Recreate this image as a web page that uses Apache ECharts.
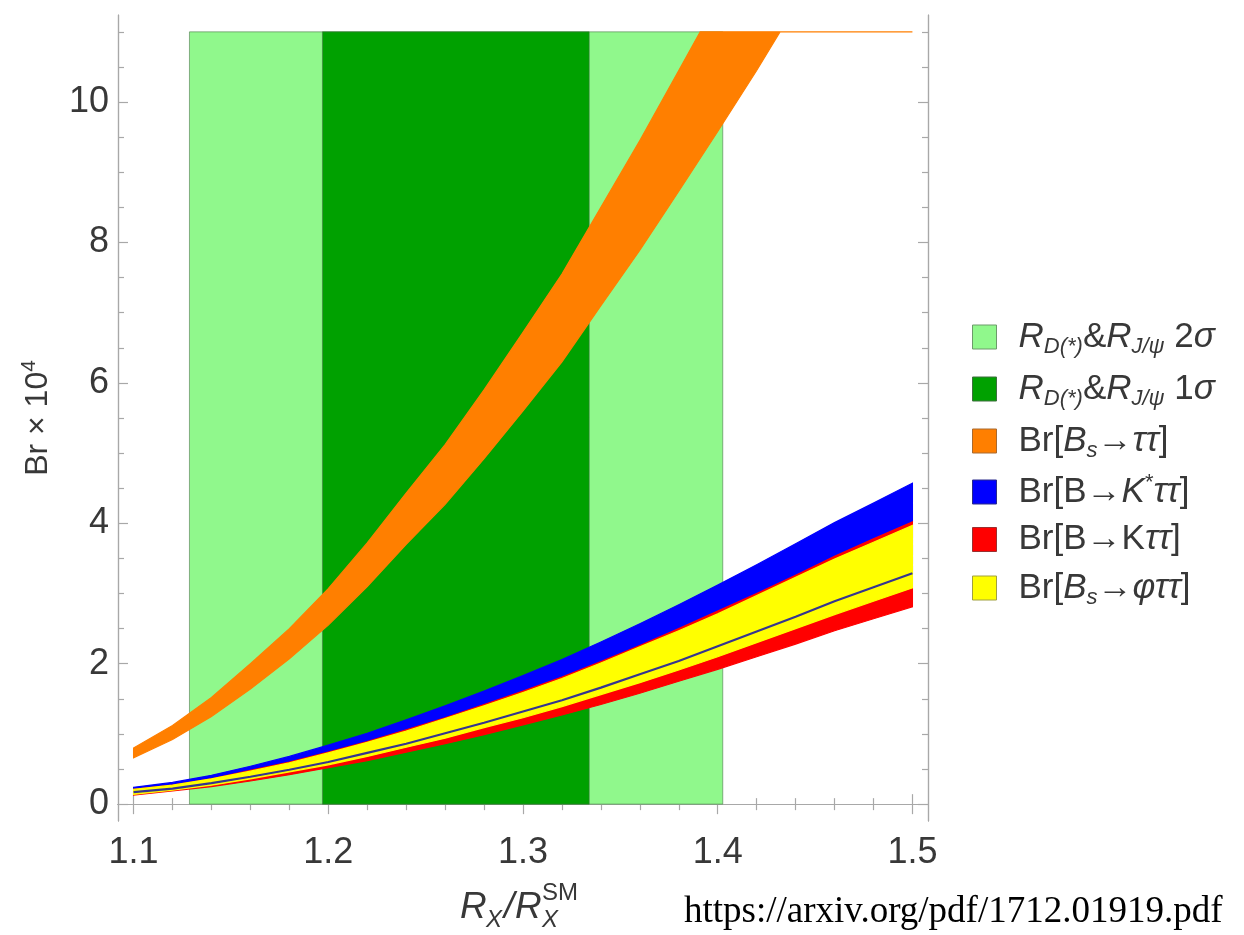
<!DOCTYPE html>
<html>
<head>
<meta charset="utf-8">
<script src="https://cdn.jsdelivr.net/npm/echarts@6/dist/echarts.min.js"></script>
<style>
  html, body { margin: 0; padding: 0; background: #ffffff; }
  #chart { width: 1244px; height: 935px; }
</style>
</head>
<body>
<div id="chart"></div>
<script>
// ---- data -------------------------------------------------------------
// R_X / R_X^SM sample points for the B -> K(*) tau tau and Bs -> phi tau tau bands
const xs = [1.10, 1.12, 1.14, 1.16, 1.18, 1.20, 1.22, 1.24, 1.26, 1.28, 1.30,
            1.32, 1.34, 1.36, 1.38, 1.40, 1.42, 1.44, 1.46, 1.48, 1.50];

// Br[B -> K* tau tau] x 10^4
const kstarUpper = [0.24, 0.31, 0.41, 0.54, 0.68, 0.84, 1.01, 1.20, 1.40, 1.61, 1.83,
                    2.06, 2.31, 2.57, 2.84, 3.12, 3.41, 3.71, 4.01, 4.29, 4.57];
const kstarLower = [0.17, 0.22, 0.30, 0.39, 0.49, 0.60, 0.73, 0.86, 1.01, 1.16, 1.32,
                    1.48, 1.66, 1.85, 2.04, 2.25, 2.46, 2.67, 2.89, 3.09, 3.29];

// Br[B -> K tau tau] x 10^4
const kUpper = [0.21, 0.27, 0.36, 0.48, 0.60, 0.74, 0.89, 1.06, 1.23, 1.42, 1.61,
                1.81, 2.03, 2.26, 2.50, 2.75, 3.00, 3.26, 3.53, 3.78, 4.02];
const kLower = [0.13, 0.19, 0.25, 0.33, 0.42, 0.52, 0.62, 0.74, 0.86, 0.99, 1.13,
                1.27, 1.42, 1.58, 1.75, 1.92, 2.10, 2.28, 2.47, 2.64, 2.81];

// Br[Bs -> phi tau tau] x 10^4
const phiUpper = [0.21, 0.27, 0.36, 0.47, 0.59, 0.73, 0.88, 1.04, 1.22, 1.40, 1.59,
                  1.79, 2.01, 2.24, 2.47, 2.71, 2.97, 3.23, 3.49, 3.73, 3.97];
const phiLower = [0.14, 0.20, 0.27, 0.36, 0.46, 0.56, 0.68, 0.81, 0.94, 1.09, 1.23,
                  1.39, 1.56, 1.73, 1.91, 2.10, 2.30, 2.50, 2.70, 2.89, 3.08];

// Br[Bs -> tau tau] x 10^4, [x, y] pairs; the band is cut off at the top of the plot range (11)
const bsUpper = [[1.10, 0.80], [1.12, 1.12], [1.14, 1.52], [1.16, 2.00], [1.18, 2.50],
                 [1.20, 3.07], [1.22, 3.72], [1.24, 4.43], [1.26, 5.12], [1.28, 5.90],
                 [1.30, 6.72], [1.32, 7.55], [1.34, 8.50], [1.36, 9.45], [1.38, 10.45],
                 [1.391, 11.0], [1.50, 11.0]];
const bsLower = [[1.10, 0.66], [1.12, 0.92], [1.14, 1.25], [1.16, 1.64], [1.18, 2.07],
                 [1.20, 2.55], [1.22, 3.10], [1.24, 3.70], [1.26, 4.27], [1.28, 4.92],
                 [1.30, 5.60], [1.32, 6.30], [1.34, 7.10], [1.36, 7.89], [1.38, 8.73],
                 [1.40, 9.58], [1.42, 10.45], [1.432, 11.0], [1.50, 11.0]];

// allowed R_X / R_X^SM ranges from R_D(*) and R_J/psi
const range2Sigma = [1.1287, 1.4026];
const range1Sigma = [1.197, 1.334];
const rangeHeight = [0, 11];

// frame ticks
const xMajor = [1.1, 1.2, 1.3, 1.4, 1.5];
const xMinor = [1.12, 1.14, 1.16, 1.18, 1.22, 1.24, 1.26, 1.28,
                1.32, 1.34, 1.36, 1.38, 1.42, 1.44, 1.46, 1.48];
const yMajor = [0, 2, 4, 6, 8, 10];
const yMinor = [0.5, 1, 1.5, 2.5, 3, 3.5, 4.5, 5, 5.5, 6.5, 7, 7.5,
                8.5, 9, 9.5, 10.5, 11];

// ---- styling ----------------------------------------------------------
const SANS = '"Liberation Sans", Arial, sans-serif';
const TEXT = '#383838';
const FRAME = '#a8a8a8';
const C = {
  light: '#90f88c', dark: '#00a100', orange: '#ff7f00',
  blue: '#0000ff', red: '#ff0000', yellow: '#ffff00', edge: '#35358f'
};

const pairs = (vals) => xs.map((x, i) => [x, vals[i]]);

function rectItem(range, fill) {
  return function (params, api) {
    const p0 = api.coord([range[0], rangeHeight[1]]);
    const p1 = api.coord([range[1], rangeHeight[0]]);
    return {
      type: 'rect',
      shape: { x: p0[0], y: p0[1], width: p1[0] - p0[0], height: p1[1] - p0[1] },
      style: { fill: fill, stroke: 'rgba(70,110,70,0.55)', lineWidth: 1 }
    };
  };
}

function bandItem(upper, lower, fill) {
  return function (params, api) {
    const pts = upper.map(p => api.coord(p))
      .concat(lower.slice().reverse().map(p => api.coord(p)));
    return {
      type: 'polygon',
      shape: { points: pts, smooth: 0 },
      style: { fill: fill, stroke: fill, lineWidth: 1.2 }
    };
  };
}

function xAxisFrame(position, ticks, length, labels) {
  return {
    type: 'value', position: position, min: 1.092, max: 1.508,
    axisLine: { show: true, lineStyle: { color: FRAME, width: 1.2 } },
    splitLine: { show: false },
    axisTick: { show: true, inside: true, length: length, customValues: ticks,
                lineStyle: { color: FRAME, width: 1.2 } },
    axisLabel: labels ? {
      show: true, customValues: ticks, margin: 14,
      fontFamily: SANS, fontSize: 36, color: TEXT
    } : { show: false }
  };
}

function yAxisFrame(position, ticks, length, labels) {
  return {
    type: 'value', position: position, min: -0.24, max: 11.24,
    axisLine: { show: true, lineStyle: { color: FRAME, width: 1.2 } },
    splitLine: { show: false },
    axisTick: { show: true, inside: true, length: length, customValues: ticks,
                lineStyle: { color: FRAME, width: 1.2 } },
    axisLabel: labels ? {
      show: true, customValues: ticks, margin: 9,
      fontFamily: SANS, fontSize: 36, color: TEXT
    } : { show: false }
  };
}

const yMain = yAxisFrame('left', yMajor, 10, true);
yMain.name = '{a|Br × 10}{b|4}';
yMain.nameLocation = 'middle';
yMain.nameGap = 60;
yMain.nameTextStyle = {
  color: TEXT, fontFamily: SANS,
  rich: {
    a: { fontSize: 32, fontFamily: SANS, color: TEXT },
    b: { fontSize: 21, fontFamily: SANS, color: TEXT, padding: [0, 0, 18, 0] }
  }
};

const legendText = {
  s2: '{i|R}{sb|D(*)}{n|&}{i|R}{sb|J/ψ}{n| 2}{i|σ}',
  s1: '{i|R}{sb|D(*)}{n|&}{i|R}{sb|J/ψ}{n| 1}{i|σ}',
  bs: '{n|Br[}{i|B}{sb|s}{n|→}{i|ττ}{n|]}',
  ks: '{n|Br[B→}{i|K}{sp|*}{i|ττ}{n|]}',
  k:  '{n|Br[B→K}{i|ττ}{n|]}',
  ph: '{n|Br[}{i|B}{sb|s}{n|→}{i|φττ}{n|]}'
};

const legendItem = (name, color, border) => ({
  name: name, icon: 'rect',
  itemStyle: { color: color, borderColor: border, borderWidth: 1 }
});

const option = {
  animation: false,
  backgroundColor: '#ffffff',
  grid: { left: 118, top: 15, right: 316, bottom: 114, containLabel: false },
  xAxis: [
    xAxisFrame('bottom', xMajor, 10, true),
    xAxisFrame('bottom', xMinor, 6, false),
    xAxisFrame('top', xMajor, 10, false),
    xAxisFrame('top', xMinor, 6, false)
  ],
  yAxis: [
    yMain,
    yAxisFrame('left', yMinor, 6, false),
    yAxisFrame('right', yMajor, 10, false),
    yAxisFrame('right', yMinor, 6, false)
  ],
  legend: {
    orient: 'vertical', left: 972, top: 316, padding: 0,
    itemWidth: 24, itemHeight: 24, itemGap: 10,
    selectedMode: false,
    data: [
      legendItem('s2', C.light, '#6c9a6a'),
      legendItem('s1', C.dark, '#3f6f3f'),
      legendItem('bs', C.orange, '#a86a30'),
      legendItem('ks', C.blue, '#2a2a8a'),
      legendItem('k', C.red, '#9a3030'),
      legendItem('ph', C.yellow, '#a0a040')
    ],
    formatter: name => legendText[name],
    textStyle: {
      color: TEXT, fontFamily: SANS, fontSize: 34, padding: [0, 0, 0, 17],
      rich: {
        n:  { fontSize: 35, lineHeight: 44, fontFamily: SANS, color: TEXT },
        i:  { fontSize: 35, lineHeight: 44, fontFamily: SANS, color: TEXT, fontStyle: 'italic' },
        sb: { fontSize: 22, lineHeight: 22, fontFamily: SANS, color: TEXT, fontStyle: 'italic', padding: [20, 0, 0, 0] },
        sp: { fontSize: 22, lineHeight: 22, fontFamily: SANS, color: TEXT, padding: [0, 0, 18, 0] }
      }
    }
  },
  graphic: [
    {
      type: 'group', left: 460, top: 881,
      children: [
        { type: 'text', x: 0, y: 8, style: { text: 'R', font: 'italic 37px ' + SANS, fill: TEXT } },
        { type: 'text', x: 26, y: 27, style: { text: 'X', font: 'italic 24px ' + SANS, fill: TEXT } },
        { type: 'text', x: 44, y: 8, style: { text: '/', font: 'italic 37px ' + SANS, fill: TEXT } },
        { type: 'text', x: 55, y: 8, style: { text: 'R', font: 'italic 37px ' + SANS, fill: TEXT } },
        { type: 'text', x: 82, y: 0, style: { text: 'SM', font: '24px ' + SANS, fill: TEXT } },
        { type: 'text', x: 82, y: 27, style: { text: 'X', font: 'italic 24px ' + SANS, fill: TEXT } }
      ]
    },
    {
      type: 'text', left: 684, top: 894,
      style: { text: 'https://arxiv.org/pdf/1712.01919.pdf',
               font: '37px "Liberation Serif", "Times New Roman", serif', fill: '#000000' }
    }
  ],
  series: [
    { name: 's2', type: 'custom', z: 1, data: [[xs[0], 0]], renderItem: rectItem(range2Sigma, C.light), silent: true },
    { name: 's1', type: 'custom', z: 2, data: [[xs[0], 0]], renderItem: rectItem(range1Sigma, C.dark), silent: true },
    { name: 'bs', type: 'custom', z: 3, data: [[xs[0], 0]], renderItem: bandItem(bsUpper, bsLower, C.orange), silent: true },
    { name: 'ks', type: 'custom', z: 4, data: [[xs[0], 0]], renderItem: bandItem(pairs(kstarUpper), pairs(kstarLower), C.blue), silent: true },
    { name: 'k', type: 'custom', z: 5, data: [[xs[0], 0]], renderItem: bandItem(pairs(kUpper), pairs(kLower), C.red), silent: true },
    { name: 'ph', type: 'custom', z: 6, data: [[xs[0], 0]], renderItem: bandItem(pairs(phiUpper), pairs(phiLower), C.yellow), silent: true },
    {
      name: 'ks-edge', type: 'line', z: 7, data: pairs(kstarLower),
      showSymbol: false, silent: true,
      lineStyle: { color: C.edge, width: 2.2 }
    }
  ]
};

const chart = echarts.init(document.getElementById('chart'), null, { renderer: 'canvas' });
chart.setOption(option);
</script>
</body>
</html>
